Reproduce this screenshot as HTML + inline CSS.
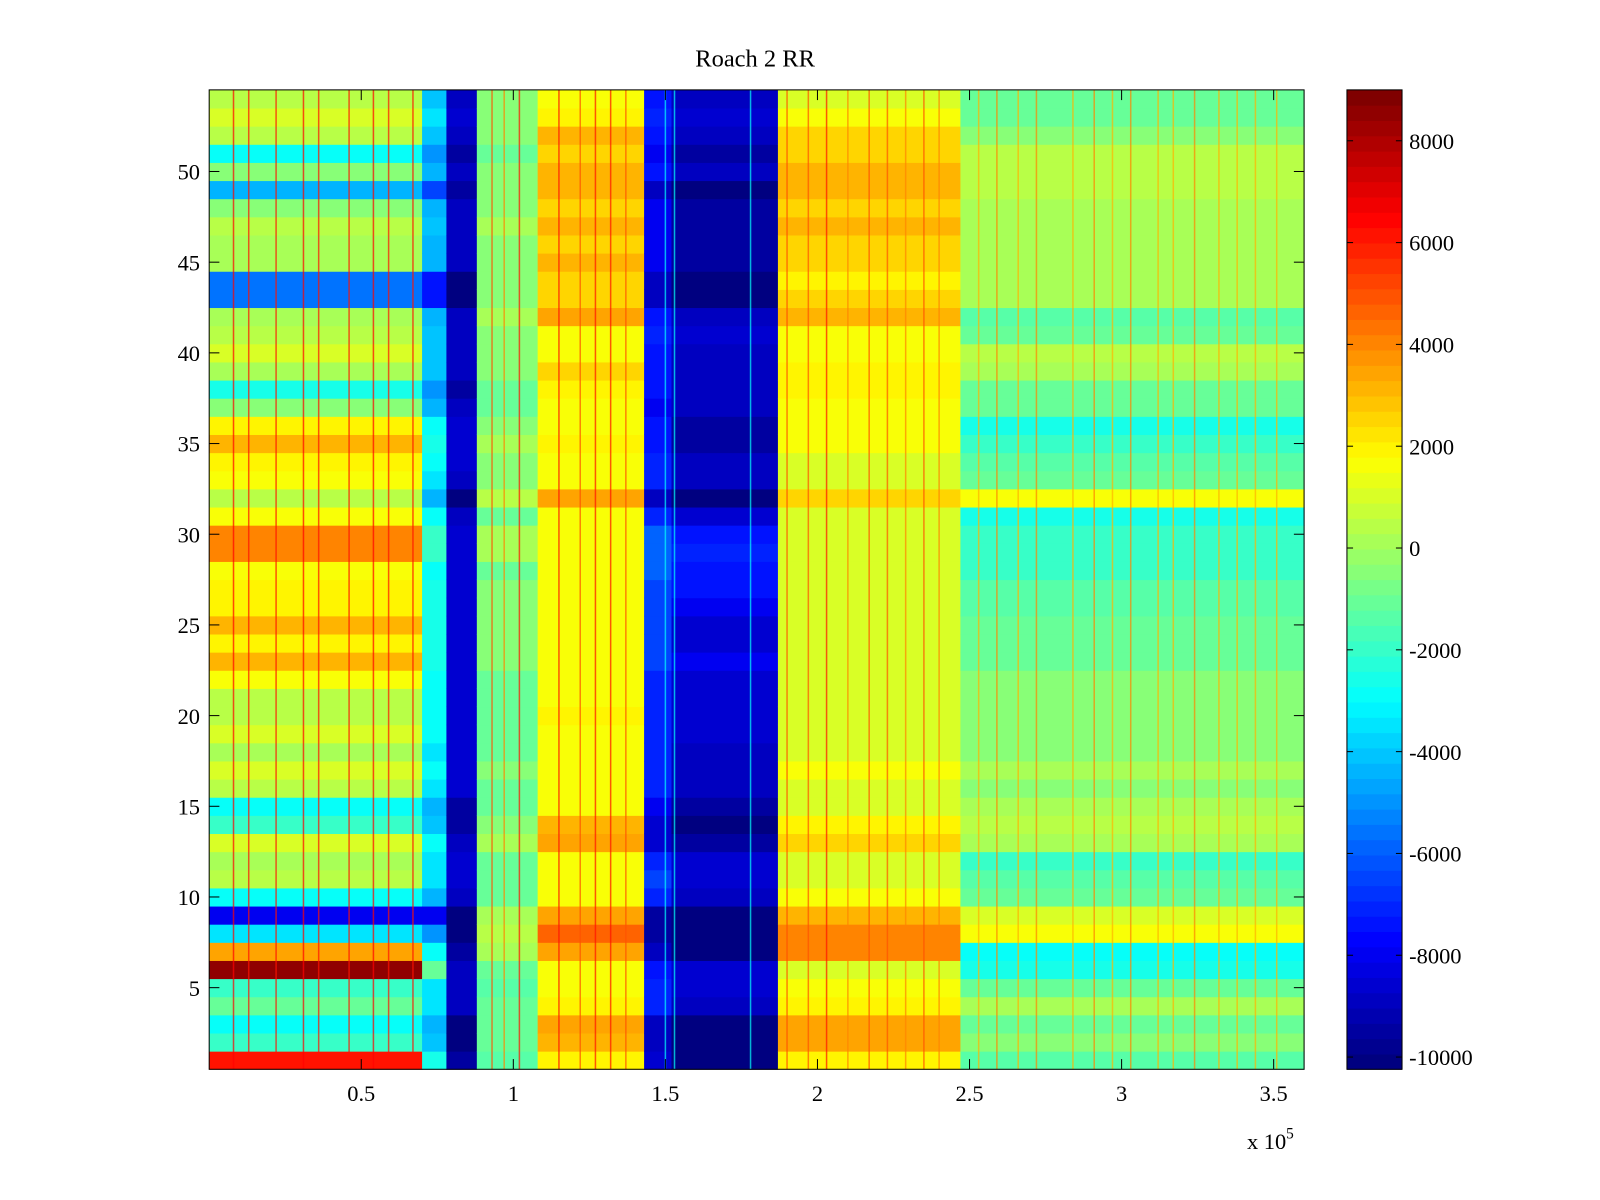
<!DOCTYPE html>
<html><head><meta charset="utf-8"><style>
html,body{margin:0;padding:0;background:#fff;}
svg{display:block;font-family:"Liberation Serif",serif;}
</style></head><body>
<svg id="chart" width="1600" height="1200" viewBox="0 0 1568 1175" preserveAspectRatio="none" xmlns="http://www.w3.org/2000/svg">
<rect width="1568" height="1175" fill="#fff"/>
<text x="740" y="65" font-size="24" text-anchor="middle">Roach 2 RR</text>
<g id="cells"></g>
<g id="stripes"></g>
<rect x="205" y="88" width="1073" height="959" fill="none" stroke="#000" stroke-width="1"/>
<g id="axes"></g>
<g id="cbar"></g>
<text x="1222" y="1125" font-size="22">x 10<tspan dy="-10" font-size="15">5</tspan></text>
</svg>
<script>
// segment boundaries in x/1e4 units
const segEdges = [0, 7, 7.8, 8.8, 10.8, 14.3, 15.2, 18.7, 24.7, 36];
// rows 1..54 values for each segment
const segA = [6000,-2000,-3000,-1000,-2000,8500,3500,-3500,-8000,-3000,500,0,1000,-2000,-3000,500,1000,0,1000,500,500,1500,3000,2000,3000,2000,2000,1500,4000,4000,1500,500,1500,2000,3000,2000,-500,-2500,0,1000,500,0,-5500,-5500,0,0,500,-500,-4500,-500,-3000,500,1000,500];
const segT1 = [-2500,-4000,-4500,-3500,-3500,-1000,-3000,-5000,-8000,-4500,-3500,-3500,-3000,-4000,-4500,-3500,-3000,-3500,-3000,-3000,-3000,-3000,-2500,-2500,-2500,-2500,-2500,-3000,-2000,-2000,-3000,-4500,-3500,-3000,-2500,-3000,-4500,-5000,-4000,-4000,-4000,-4500,-7500,-7500,-4500,-4500,-4000,-4500,-6500,-4500,-5000,-4000,-3500,-4000];
const segT2 = [-9500,-10000,-10000,-9000,-9000,-9000,-9500,-10000,-10000,-9000,-8500,-8500,-9000,-9500,-9500,-8500,-8500,-8500,-8500,-8500,-8500,-8500,-8500,-8500,-8500,-8500,-8500,-8500,-8500,-8500,-9000,-10000,-9000,-8500,-8500,-8500,-9000,-9500,-9000,-9000,-9000,-9000,-10000,-10000,-9000,-9000,-9000,-9000,-9500,-9000,-9500,-9000,-8500,-9000];
const segG = [-1500,-1000,-1000,-1000,-1500,-1000,0,500,0,-1000,-1000,-1000,0,-500,-1000,-1000,-500,-1000,-1000,-1000,-1000,-1000,-500,-500,-500,-500,-500,-1000,0,0,-1000,500,-500,-500,0,-500,-1000,-1000,-500,-500,-500,0,-500,-500,-500,-500,0,-500,-500,-500,-1000,-500,-500,-500];
const segB = [2000,3000,3500,2000,1500,1500,3500,4500,3500,1500,1500,1500,3500,3000,1500,1500,1500,1500,1500,2000,1500,1500,1500,1500,1500,1500,1500,1500,1500,1500,1500,3500,1500,1500,2000,1500,1500,2000,2500,1500,1500,3500,2500,2500,3000,2500,3000,2500,3000,3000,2500,3000,2000,1500];
const segC1 = [-8500,-9000,-9000,-7000,-7000,-7500,-9000,-9500,-9500,-7000,-6500,-7000,-8500,-8500,-8000,-7000,-7000,-7000,-7000,-7000,-7000,-7000,-6500,-6500,-6500,-6500,-6500,-6000,-6000,-6000,-7000,-9000,-7000,-7000,-7500,-7500,-8000,-7500,-7500,-7500,-7000,-7500,-9000,-9000,-8000,-8000,-8000,-8000,-9000,-7500,-8000,-7500,-7000,-7500];
const segC = [-10000,-10000,-10000,-9000,-8500,-8500,-10000,-10000,-10000,-9000,-8500,-8500,-9500,-10000,-9500,-9000,-9000,-9000,-8500,-8500,-8500,-8500,-8000,-8500,-8500,-8000,-7500,-7500,-7000,-7500,-8500,-10000,-9000,-9000,-9500,-9500,-9000,-9000,-9000,-9000,-8500,-9000,-10000,-10000,-9500,-9500,-9500,-9500,-10000,-9000,-9500,-9000,-8500,-9000];
const segD = [2000,3500,3500,2000,1500,1000,4000,4000,3000,1500,1000,1000,2500,2000,1000,1000,1500,1000,1000,1000,1000,1000,1000,1000,1000,1000,1000,1000,1000,1000,1000,2500,1000,1000,1500,1500,1500,2000,2000,1500,1500,3000,2500,2000,2500,2500,3000,2500,3000,3000,2500,2500,1500,1000];
const segE = [-1500,-500,-1000,0,-1000,-2500,-3000,1500,1000,-1000,-1500,-2000,0,500,0,-500,0,-500,-500,-500,-500,-500,-1000,-1000,-1000,-1500,-1500,-2000,-2000,-2000,-2500,1500,-1000,-1500,-2000,-2500,-1000,-1000,0,500,-1000,-1500,0,0,0,0,0,0,500,500,500,-500,-1000,-1000];
const segRows = [segA, segT1, segT2, segG, segB, segC1, segC, segD, segE];
// vertical stripe positions (x/1e4) and values
const stripeX = [0.8,1.3,2.2,3.1,3.6,4.6,5.4,5.9,6.7,9.3,9.7,10.2,11.5,12.2,12.7,13.2,13.7,15.0,15.3,17.8,19.0,19.7,20.3,21.0,21.7,22.3,22.9,23.5,24.0,25.3,25.9,26.6,27.2,28.4,29.1,29.7,30.3,31.2,31.7,32.4,33.2,33.8,34.4,35.1];
const stripeV = [6500,6000,6000,6500,6000,6000,6500,6000,6000,5000,4000,6000,6000,5000,6000,6000,5000,-3000,-3000,-3000,5000,5000,6000,4000,5000,5000,4000,5000,4000,3000,4000,3000,4000,3000,4000,3000,4000,3000,3000,4000,3000,3000,3000,3000];
// x ticks in x/1e4 units
const xTicks = [5,10,15,20,25,30,35];
const xTickLabels = ["0.5","1","1.5","2","2.5","3","3.5"];
const yTicks = [5,10,15,20,25,30,35,40,45,50];
const cbTicks = [8000,6000,4000,2000,0,-2000,-4000,-6000,-8000,-10000];

const NS="http://www.w3.org/2000/svg";
const PX0=205, PX1=1278, PY0=88, PY1=1047;
const XMIN=0, XMAX=36, YMIN=0.5, YMAX=54.5;
const CMIN=-10240, CMAX=9000;
const sx=v=>PX0+(v-XMIN)/(XMAX-XMIN)*(PX1-PX0);
const sy=v=>PY1-(v-YMIN)/(YMAX-YMIN)*(PY1-PY0);
function jet(t){
  t=Math.max(0,Math.min(1,t)); t=Math.min(63,Math.floor(t*64))/63;
  const f=x=>Math.round(255*Math.max(0,Math.min(1,x)));
  return `rgb(${f(1.5-Math.abs(4*t-3))},${f(1.5-Math.abs(4*t-2))},${f(1.5-Math.abs(4*t-1))})`;
}
const col=v=>jet((v-CMIN)/(CMAX-CMIN));
function mk(tag,attrs,parent){const e=document.createElementNS(NS,tag);for(const k in attrs)e.setAttribute(k,attrs[k]);parent.appendChild(e);return e;}
const cells=document.getElementById('cells');
for(let s=0;s<segRows.length;s++){
  for(let r=0;r<54;r++){
    const x0=sx(segEdges[s]),x1=sx(segEdges[s+1]);
    const y0=sy(r+1.5),y1=sy(r+0.5);
    const el=mk('rect',{x:x0,y:y0,width:x1-x0+0.5,height:y1-y0+0.5,fill:col(segRows[s][r])},cells);
    
    
  }
}
const sg=document.getElementById('stripes');
for(let i=0;i<stripeX.length;i++){
  const el=mk('rect',{x:sx(stripeX[i])-0.75,y:PY0,width:1.5,height:PY1-PY0,fill:col(stripeV[i]),opacity:0.7},sg);
  
  
}
const ax=document.getElementById('axes');
xTicks.forEach((v,i)=>{
  const x=sx(v);
  mk('line',{x1:x,x2:x,y1:PY1,y2:PY1-10,stroke:'#000'},ax);
  mk('line',{x1:x,x2:x,y1:PY0,y2:PY0+10,stroke:'#000'},ax);
  const t=mk('text',{x:x,y:1078,'font-size':22,'text-anchor':'middle'},ax);
  t.textContent=xTickLabels[i];
  
  
});
yTicks.forEach(v=>{
  const y=sy(v);
  mk('line',{x1:PX0,x2:PX0+10,y1:y,y2:y,stroke:'#000'},ax);
  mk('line',{x1:PX1,x2:PX1-10,y1:y,y2:y,stroke:'#000'},ax);
  const t=mk('text',{x:196,y:y+8,'font-size':22,'text-anchor':'end'},ax);
  t.textContent=String(v);
  
  
});
const cb=document.getElementById('cbar');
const CX0=1320,CX1=1374;
for(let i=0;i<64;i++){
  const h=(PY1-PY0)/64;
  const el=mk('rect',{x:CX0,y:PY1-(i+1)*h,width:CX1-CX0,height:h+0.5,fill:jet(i/63)},cb);
  
  
}
mk('rect',{x:CX0,y:PY0,width:CX1-CX0,height:PY1-PY0,fill:'none',stroke:'#000'},cb);
const cy=v=>PY1-(v-CMIN)/(CMAX-CMIN)*(PY1-PY0);
cbTicks.forEach(v=>{
  const y=cy(v);
  mk('line',{x1:CX0,x2:CX0+6,y1:y,y2:y,stroke:'#000'},cb);
  mk('line',{x1:CX1,x2:CX1-6,y1:y,y2:y,stroke:'#000'},cb);
  const t=mk('text',{x:1381,y:y+8,'font-size':22},cb);
  t.textContent=String(v);
  
  
});
</script>
</body></html>
